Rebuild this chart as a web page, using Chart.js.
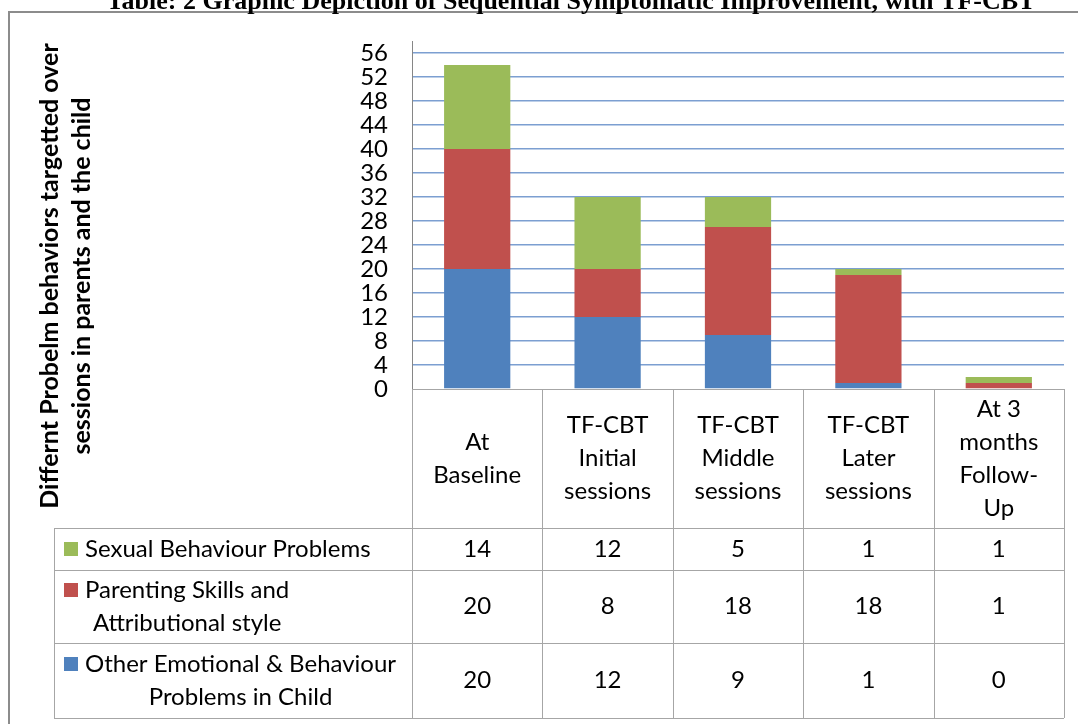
<!DOCTYPE html>
<html>
<head>
<meta charset="utf-8">
<script src="https://cdn.jsdelivr.net/npm/chart.js@4.4.1/dist/chart.umd.min.js"></script>
<style>
html, body { margin: 0; padding: 0; background: #fff; }
canvas { display: block; }
</style>
</head>
<body>
<canvas id="chart" width="1078" height="724"></canvas>
<script>
// data of the chart (also shown in the table under it)
const categories = [
    ['At', 'Baseline'],
    ['TF-CBT', 'Initial', 'sessions'],
    ['TF-CBT', 'Middle', 'sessions'],
    ['TF-CBT', 'Later', 'sessions'],
    ['At 3', 'months', 'Follow-', 'Up']
];
const sexualProblems = [14, 12, 5, 1, 1];
const parentingSkills = [20, 8, 18, 18, 1];
const emotionalProblems = [20, 12, 9, 1, 0];

const sexualLabel = ['Sexual Behaviour Problems'];
const parentingLabel = ['Parenting Skills and', 'Attributional style'];
const emotionalLabel = ['Other Emotional & Behaviour', 'Problems in Child'];

const yTicks = [0, 4, 8, 12, 16, 20, 24, 28, 32, 36, 40, 44, 48, 52, 56];

const chartTitle = 'Table: 2 Graphic Depiction of Sequential Symptomatic Improvement, with TF-CBT';
const yTitle = ['Differnt Probelm behaviors targetted over', 'sessions in parents and the child'];

const GREEN = '#9bbb59';
const RED = '#c0504d';
const BLUE = '#4f81bd';
const FONT = 'Lato, "Noto Sans", sans-serif';

// 表格、标题和外框都在图表画完以后补上
const tablePlugin = {
    id: 'dataTable',
    afterDraw(chart) {
        const ctx = chart.ctx;
        const area = chart.chartArea;
        const n = categories.length;
        const colW = (area.right - area.left) / n;
        const tableLeft = 54;
        const rowLines = [528, 570, 643, 718];

        ctx.save();

        // outer frame
        ctx.strokeStyle = '#8c8c8c';
        ctx.lineWidth = 2;
        ctx.beginPath();
        ctx.moveTo(9, 730);
        ctx.lineTo(9, 12);
        ctx.lineTo(1080, 12);
        ctx.stroke();

        // title (cut at the top as in the scan)
        ctx.fillStyle = '#000';
        ctx.font = 'bold 26px "Liberation Serif", "DejaVu Serif", serif';
        ctx.textAlign = 'center';
        ctx.textBaseline = 'alphabetic';
        ctx.fillText(chartTitle, 571, 9);

        // y axis title, rotated
        ctx.font = 'bold 25px ' + FONT;
        const titleX = [58, 90];
        yTitle.forEach(function(line, i) {
            ctx.save();
            ctx.translate(titleX[i], 276);
            ctx.rotate(-Math.PI / 2);
            ctx.fillText(line, 0, 0);
            ctx.restore();
        });

        // table lines
        ctx.strokeStyle = '#a6a6a6';
        ctx.lineWidth = 1;
        ctx.beginPath();
        ctx.moveTo(area.left, area.bottom + 0.5);
        ctx.lineTo(area.right, area.bottom + 0.5);
        rowLines.forEach(function(y) {
            ctx.moveTo(tableLeft, y + 0.5);
            ctx.lineTo(area.right, y + 0.5);
        });
        for (let i = 0; i <= n; i++) {
            const x = Math.round(area.left + i * colW) + 0.5;
            ctx.moveTo(x, area.bottom);
            ctx.lineTo(x, rowLines[rowLines.length - 1]);
        }
        ctx.moveTo(tableLeft + 0.5, rowLines[0]);
        ctx.lineTo(tableLeft + 0.5, rowLines[rowLines.length - 1]);
        ctx.stroke();

        // header row: category names
        ctx.fillStyle = '#000';
        ctx.font = '24px ' + FONT;
        ctx.textBaseline = 'middle';
        ctx.textAlign = 'center';
        const lineH = 33;
        const headMid = (area.bottom + rowLines[0]) / 2;
        categories.forEach(function(lines, i) {
            const cx = chart.scales.x.getPixelForValue(i);
            const y0 = headMid - (lines.length - 1) * lineH / 2;
            lines.forEach(function(t, j) {
                ctx.fillText(t, cx, y0 + j * lineH);
            });
        });

        // data rows
        const rows = [
            { label: sexualLabel, color: GREEN, values: sexualProblems },
            { label: parentingLabel, color: RED, values: parentingSkills },
            { label: emotionalLabel, color: BLUE, values: emotionalProblems }
        ];
        rows.forEach(function(row, r) {
            const mid = (rowLines[r] + rowLines[r + 1]) / 2;
            const y0 = mid - (row.label.length - 1) * lineH / 2;
            // legend key
            ctx.fillStyle = row.color;
            ctx.fillRect(64, Math.round(y0 - 7), 14, 14);
            // label, lines centred on the widest one
            ctx.fillStyle = '#000';
            const widths = row.label.map(t => ctx.measureText(t).width);
            const labelMid = 85 + Math.max.apply(null, widths) / 2;
            row.label.forEach(function(t, j) {
                ctx.fillText(t, labelMid, y0 + j * lineH);
            });
            // values
            row.values.forEach(function(v, i) {
                ctx.fillText(String(v), chart.scales.x.getPixelForValue(i), mid);
            });
        });

        ctx.restore();
    }
};

const ctx = document.getElementById('chart').getContext('2d');
const chart = new Chart(ctx, {
    type: 'bar',
    data: {
        labels: categories,
        datasets: [
            { label: emotionalLabel.join(' '), data: emotionalProblems, backgroundColor: BLUE },
            { label: parentingLabel.join(' '), data: parentingSkills, backgroundColor: RED },
            { label: sexualLabel.join(' '), data: sexualProblems, backgroundColor: GREEN }
        ]
    },
    options: {
        responsive: false,
        animation: false,
        devicePixelRatio: 1,
        layout: { padding: { top: 41, right: 14, left: 0, bottom: 0 } },
        datasets: { bar: { categoryPercentage: 1, barPercentage: 0.508, borderWidth: 0 } },
        plugins: {
            legend: { display: false },
            tooltip: { enabled: false },
            title: { display: false }
        },
        scales: {
            x: {
                stacked: true,
                grid: { display: false },
                border: { display: false },
                ticks: { display: false },
                afterFit(scale) { scale.height = 335; }
            },
            y: {
                stacked: true,
                min: 0,
                max: 58,
                afterBuildTicks(scale) {
                    scale.ticks = yTicks.map(v => ({ value: v }));
                },
                afterFit(scale) { scale.width = 412; },
                grid: {
                    color: c => (c.tick && c.tick.value === 0) ? 'rgba(0,0,0,0)' : '#7c9fd1',
                    lineWidth: 1.5,
                    drawTicks: false
                },
                border: { color: '#868686', width: 1 },
                ticks: {
                    autoSkip: false,
                    padding: 24,
                    color: '#000',
                    font: { family: FONT, size: 24 }
                }
            }
        }
    },
    plugins: [tablePlugin]
});
</script>
</body>
</html>
